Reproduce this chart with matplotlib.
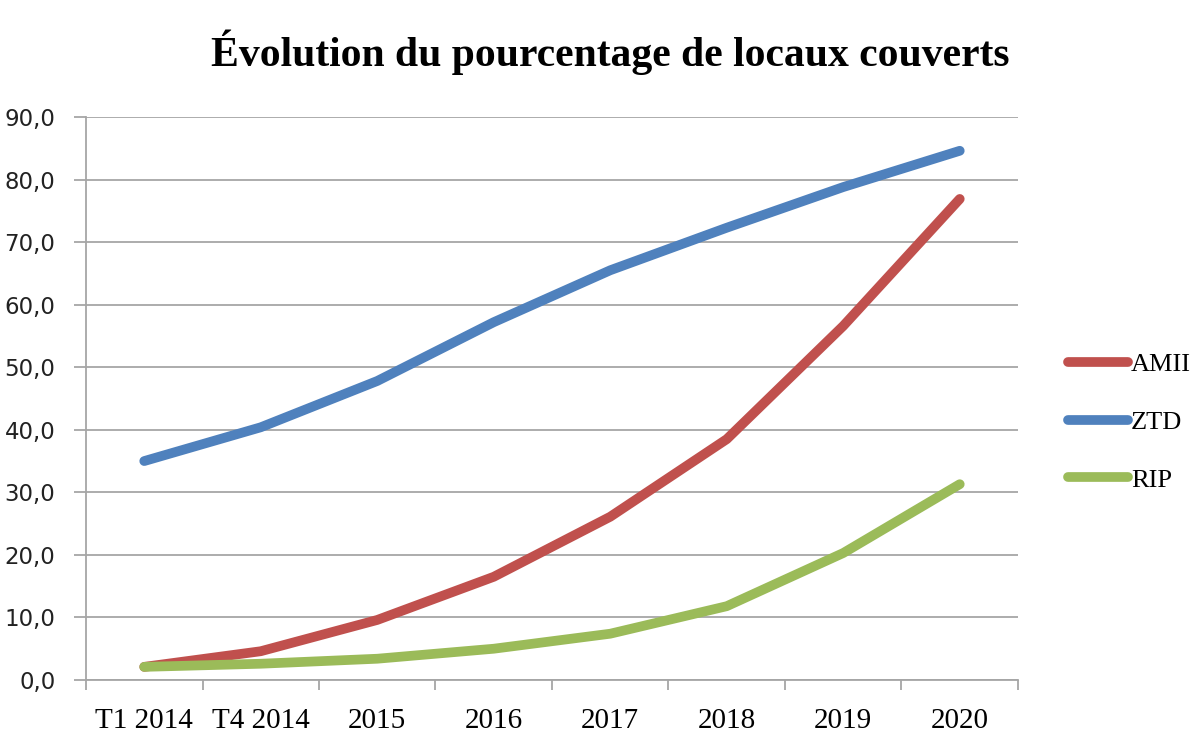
import matplotlib
matplotlib.use("Agg")
import matplotlib.pyplot as plt
from matplotlib.ticker import FuncFormatter, MultipleLocator, FixedLocator

categories = ["T1 2014", "T4 2014", "2015", "2016", "2017", "2018", "2019", "2020"]
amii = [2.1, 4.6, 9.6, 16.5, 26.1, 38.5, 56.6, 76.9]
ztd = [35.0, 40.4, 47.8, 57.2, 65.5, 72.3, 78.8, 84.6]
rip = [2.1, 2.6, 3.4, 5.0, 7.4, 11.8, 20.3, 31.3]
series_names = ["AMII", "ZTD", "RIP"]
colors = ["#c0504d", "#4f81bd", "#9bbb59"]

fig = plt.figure(figsize=(12, 7.5), dpi=100)
ax = fig.add_axes([86/1200, 70/750, (1018-86)/1200, (680-117)/750])

x = list(range(len(categories)))
for vals, name, c in zip([amii, ztd, rip], series_names, colors):
    ax.plot(x, vals, color=c, lw=7, solid_capstyle="round", solid_joinstyle="round", label=name)

ax.set_xlim(-0.5, len(categories) - 0.5)
ax.set_ylim(0, 90)
ax.yaxis.set_major_locator(MultipleLocator(10))
ax.yaxis.set_major_formatter(FuncFormatter(lambda v, p: f"{v:.1f}".replace(".", ",")))
ax.grid(axis="y", color="#a6a6a6", lw=1.3)
ax.set_axisbelow(True)

ax.set_xticks(x)
ax.set_xticklabels(categories, fontfamily="Liberation Serif", fontsize=21)
ax.xaxis.set_minor_locator(FixedLocator([i - 0.5 for i in range(len(categories) + 1)]))
ax.tick_params(axis="x", which="major", length=0, pad=20)
ax.tick_params(axis="x", which="minor", length=7, width=1.3, color="#a6a6a6", direction="out")
ax.tick_params(axis="y", length=9, width=1.3, color="#a6a6a6", labelsize=16.5, pad=13)
for lab in ax.get_yticklabels():
    lab.set_fontfamily("DejaVu Sans")
    lab.set_color("#222222")

for s in ["top", "right"]:
    ax.spines[s].set_visible(False)
for s in ["left", "bottom"]:
    ax.spines[s].set_color("#a6a6a6")
    ax.spines[s].set_linewidth(1.3)

fig.text(610/1200, 1 - 52/750, "Évolution du pourcentage de locaux couverts",
         ha="center", va="center", fontsize=30, fontweight="bold", fontfamily="Liberation Serif")

leg = fig.legend(loc="center left", bbox_to_anchor=(1044/1200, 1 - 422/750), frameon=False,
                 prop={"family": "Liberation Serif", "size": 19}, handlelength=2.3,
                 handletextpad=0.1, labelspacing=1.3)

fig.savefig("out.png", dpi=100)
